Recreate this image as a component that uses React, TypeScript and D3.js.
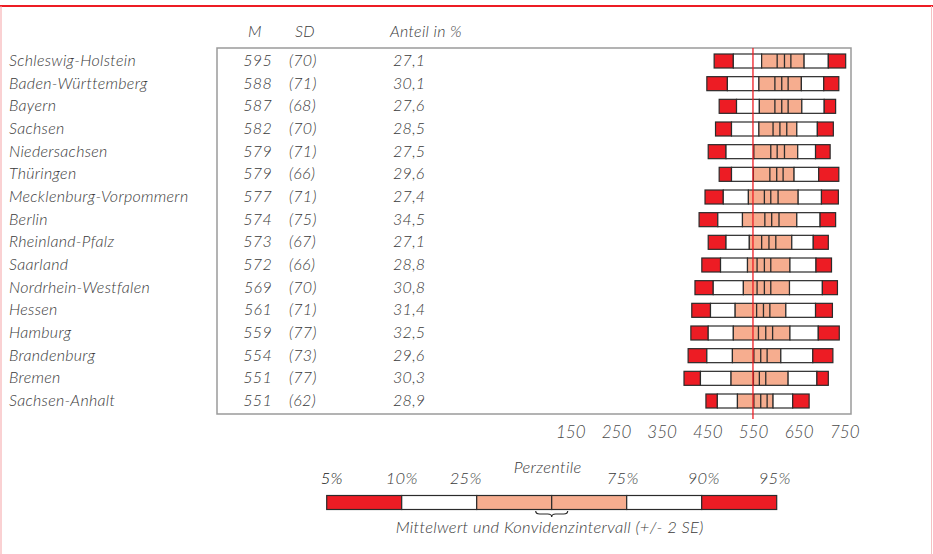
import React, { useRef, useEffect } from "react";
import * as d3 from "d3";

// Bundesländer, sorted as in the source table
const states = [
  "Schleswig-Holstein",
  "Baden-Württemberg",
  "Bayern",
  "Sachsen",
  "Niedersachsen",
  "Thüringen",
  "Mecklenburg-Vorpommern",
  "Berlin",
  "Rheinland-Pfalz",
  "Saarland",
  "Nordrhein-Westfalen",
  "Hessen",
  "Hamburg",
  "Brandenburg",
  "Bremen",
  "Sachsen-Anhalt",
];
const meanText = ["595", "588", "587", "582", "579", "579", "577", "574", "573", "572", "569", "561", "559", "554", "551", "551"];
const sdText = ["(70)", "(71)", "(68)", "(70)", "(71)", "(66)", "(71)", "(75)", "(67)", "(66)", "(70)", "(71)", "(77)", "(73)", "(77)", "(62)"];
const shareText = ["27,1", "30,1", "27,6", "28,5", "27,5", "29,6", "27,4", "34,5", "27,1", "28,8", "30,8", "31,4", "32,5", "29,6", "30,3", "28,9"];

// percentile bars
const p05 = [465, 449, 476, 468, 452, 476, 445, 432, 452, 438, 423, 416, 414, 408, 399, 447];
const p10 = [507, 494, 514, 503, 491, 503, 485, 473, 491, 479, 463, 457, 452, 449, 435, 472];
const p25 = [569, 563, 564, 563, 552, 551, 540, 527, 542, 538, 529, 511, 507, 505, 502, 516];
const ciLo = [603, 598, 598, 594, 589, 587, 575, 576, 569, 559, 559, 558, 562, 552, 551, 552];
const ciMid = [619, 613, 613, 609, 603, 602, 589, 591, 585, 575, 575, 573, 578, 567, 564, 567];
const ciHi = [633, 627, 627, 624, 619, 616, 605, 607, 600, 589, 589, 587, 593, 581, 578, 581];
const p75 = [662, 656, 657, 646, 648, 640, 649, 646, 635, 631, 630, 622, 631, 611, 627, 594];
const p90 = [715, 705, 706, 691, 687, 694, 700, 697, 682, 688, 702, 687, 693, 681, 690, 637];
const p95 = [753, 738, 731, 726, 719, 738, 737, 731, 715, 722, 735, 724, 739, 725, 715, 673];

const axisTicks = [150, 250, 350, 450, 550, 650, 750];
const referenceValue = 550;

const legendLabels = ["5%", "10%", "25%", "75%", "90%", "95%"];
const legendLabelAt = [0, 1, 2, 4, 5, 6];

const RED = "#ED1C24";
const SALMON = "#F6AD8F";
const TEXT = "#3a3a3a";
const FONT = "Lato, 'Open Sans', sans-serif";

const App: React.FC = () => {
  const axisRef = useRef<SVGGElement | null>(null);

  const width = 933;
  const height = 554;
  const frame = { left: 217, right: 851, top: 48, bottom: 414 };

  const x = d3.scaleLinear().domain([150, 750]).range([570.3, 844.3]);
  const y = d3
    .scalePoint<string>()
    .domain(states)
    .range([61, 401]);
  const barH = 14;

  const legendX = d3.scaleLinear().domain([0, 6]).range([326.7, 776.7]);
  const legendFill = [RED, "#fff", SALMON, SALMON, "#fff", RED];
  const legendNudge = [5, 0, -11, -4, 2, -2];

  useEffect(() => {
    if (!axisRef.current) return;
    const g = d3.select(axisRef.current);
    g.selectAll("*").remove();
    g.call(
      d3
        .axisBottom(x)
        .tickValues(axisTicks)
        .tickSize(0)
        .tickFormat((d) => String(d))
    );
    g.select(".domain").remove();
    g.selectAll("text")
      .attr("dy", 0)
      .attr("y", 0)
      .style("font-family", FONT)
      .style("font-style", "italic")
      .style("font-weight", 300)
      .style("font-size", "17px")
      .style("fill", "#4a4a4a");
  }, []);

  return (
    <div style={{ position: "absolute", left: 0, top: 0 }}>
      <svg width={width} height={height} style={{ display: "block" }}>
        <rect width={width} height={height} fill="#fff" />
        {/* page border */}
        <line x1={0} x2={width} y1={6} y2={6} stroke={RED} strokeWidth={2} />
        <line x1={1} x2={1} y1={6} y2={height} stroke="#F5A3A6" strokeWidth={1} />
        <line x1={931.5} x2={931.5} y1={6} y2={height} stroke="#F5C0C2" strokeWidth={1} />

        <g fontFamily={FONT} fontStyle="italic" fontWeight={300} fill={TEXT} letterSpacing={0.3}>
          <text x={255} y={37} fontSize={16} textAnchor="middle">M</text>
          <text x={295} y={37} fontSize={16}>SD</text>
          <text x={390} y={37} fontSize={16}>Anteil in %</text>
          {states.map((s, i) => (
            <g key={s} fontSize={16}>
              <text x={9} y={(y(s) as number) + 5}>{s}</text>
              <text x={272} y={(y(s) as number) + 5} textAnchor="end">{meanText[i]}</text>
              <text x={289} y={(y(s) as number) + 5}>{sdText[i]}</text>
              <text x={393} y={(y(s) as number) + 5}>{shareText[i]}</text>
            </g>
          ))}
        </g>

        <rect
          x={frame.left}
          y={frame.top}
          width={frame.right - frame.left}
          height={frame.bottom - frame.top}
          fill="none"
          stroke="#9a9a9a"
          strokeWidth={1.5}
        />

        {states.map((s, i) => {
          const cy = y(s) as number;
          const top = cy - barH / 2;
          const segs = [
            [p05[i], p10[i], RED],
            [p10[i], p25[i], "#fff"],
            [p25[i], p75[i], SALMON],
            [p75[i], p90[i], "#fff"],
            [p90[i], p95[i], RED],
          ] as [number, number, string][];
          return (
            <g key={s}>
              {segs.map(([a, b, c], k) => (
                <rect
                  key={k}
                  x={x(a)}
                  y={top}
                  width={x(b) - x(a)}
                  height={barH}
                  fill={c}
                  stroke="#2b2b2b"
                  strokeWidth={1.2}
                />
              ))}
              {[ciLo[i], ciMid[i], ciHi[i]].map((v, k) => (
                <line
                  key={k}
                  x1={x(v)}
                  x2={x(v)}
                  y1={top}
                  y2={top + barH}
                  stroke="#2b2b2b"
                  strokeWidth={1.3}
                />
              ))}
            </g>
          );
        })}

        <line
          x1={x(referenceValue)}
          x2={x(referenceValue)}
          y1={frame.top}
          y2={419}
          stroke={RED}
          strokeWidth={1.3}
        />

        <g ref={axisRef} transform="translate(0,438)" />

        {/* legend */}
        <g>
          {legendFill.map((c, k) => (
            <rect
              key={k}
              x={legendX(k)}
              y={495.5}
              width={legendX(k + 1) - legendX(k)}
              height={14}
              fill={c}
              stroke="#2b2b2b"
              strokeWidth={1.2}
            />
          ))}
          <g fontFamily={FONT} fontStyle="italic" fontWeight={300} fontSize={16.5} fill={TEXT} letterSpacing={0.3}>
            {legendLabels.map((l, k) => (
              <text
                key={l}
                x={legendX(legendLabelAt[k]) + legendNudge[k]}
                y={484}
                textAnchor="middle"
                fill={k === 0 ? "#111" : TEXT}
              >
                {l}
              </text>
            ))}
            <text x={legendX(3) - 4} y={473} textAnchor="middle">Perzentile</text>
            <text x={legendX(3) - 2} y={533} textAnchor="middle">
              Mittelwert und Konvidenzintervall (+/- 2 SE)
            </text>
          </g>
          <path
            d={`M${legendX(3) - 16},511 q0,3 4,3 h8 q4,0 4,3 q0,-3 4,-3 h8 q4,0 4,-3`}
            fill="none"
            stroke="#2b2b2b"
            strokeWidth={1.2}
          />
        </g>
      </svg>
    </div>
  );
};

export default App;
